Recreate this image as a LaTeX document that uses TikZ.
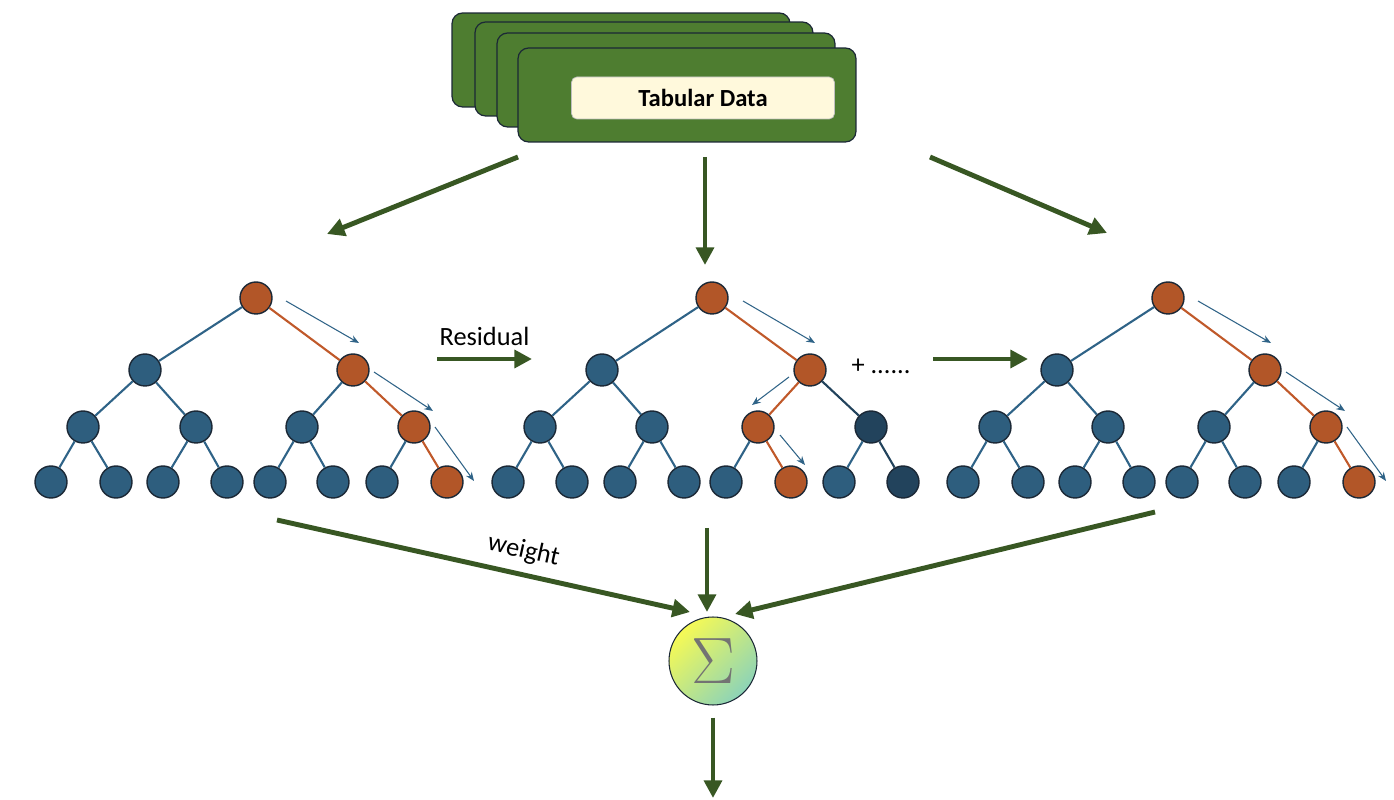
\documentclass[tikz,border=0pt]{standalone}
\usepackage{fontspec}
\setmainfont{Carlito}
\usetikzlibrary{positioning, shapes, arrows.meta}

\definecolor{boxgreen}{HTML}{4E7D30}
\definecolor{arrowgreen}{HTML}{385723}
\definecolor{nodeblue}{HTML}{2E5E7E}
\definecolor{nodedark}{HTML}{22435C}
\definecolor{nodeorange}{HTML}{B25628}
\definecolor{edgeblue}{HTML}{2F6387}
\definecolor{edgeorange}{HTML}{C0592A}
\definecolor{outline}{HTML}{1B2836}
\definecolor{cream}{HTML}{FFF9DC}
\definecolor{sigtop}{HTML}{F6FA55}
\definecolor{sigbot}{HTML}{8CD3B8}

\tikzset{
  tnode/.style={circle, draw=outline, line width=0.8pt, minimum size=0.64cm, inner sep=0pt},
  tedge/.style={line width=1.2pt},
  hint/.style={draw=edgeblue, line width=0.6pt, -{Stealth[length=5pt,width=4pt]}},
  garrow/.style={draw=arrowgreen, line width=2.8pt, -{Triangle[length=10pt,width=10pt]}},
  databox/.style={rounded corners=6pt, draw=outline, line width=0.7pt, fill=boxgreen, minimum width=6.76cm, minimum height=1.88cm},
}

\begin{document}
\begin{tikzpicture}[x=0.02cm, y=-0.02cm]
  \useasboundingbox (0,0) rectangle (1394,800);

  % stacked data sheets
  \node (data1) [databox] at (621,60) {};
  \node (data2) [databox] at (644,69) {};
  \node (data3) [databox] at (666,80) {};
  \node (data4) [databox] at (687,95) {};
  \node (tab) [rounded corners=3pt, draw=black!25, fill=cream, minimum width=5.26cm, minimum height=0.84cm,
    font=\fontsize{14}{16}\selectfont\bfseries] at (703,98) {Tabular Data};

  % trees 1 and 3
  \foreach \k/\c in {1/249, 3/1161} {
    \foreach \n/\x/\y/\f in {r/7/298/nodeorange, a/-104/370/nodeblue, b/104/370/nodeorange,
        aa/-166/427/nodeblue, ab/-53/427/nodeblue, ba/53/427/nodeblue, bb/165/427/nodeorange,
        aaa/-198/482/nodeblue, aab/-133/482/nodeblue, aba/-86/482/nodeblue, abb/-22/482/nodeblue,
        baa/21/482/nodeblue, bab/84/482/nodeblue, bba/133/482/nodeblue, bbb/198/482/nodeorange}
      \node (\n\k) [tnode, fill=\f] at (\c+\x,\y) {};
    \foreach \p/\q/\f in {r/a/edgeblue, r/b/edgeorange, a/aa/edgeblue, a/ab/edgeblue,
        b/ba/edgeblue, b/bb/edgeorange, aa/aaa/edgeblue, aa/aab/edgeblue, ab/aba/edgeblue,
        ab/abb/edgeblue, ba/baa/edgeblue, ba/bab/edgeblue, bb/bba/edgeblue, bb/bbb/edgeorange}
      \draw[tedge, draw=\f] (\p\k) -- (\q\k);
    \draw[hint] ([shift={(30,3)}]r\k.center) -- ([shift={(6,-27)}]b\k.center);
    \draw[hint] ([shift={(21,2)}]b\k.center) -- ([shift={(19,-16)}]bb\k.center);
    \draw[hint] ([shift={(21,0)}]bb\k.center) -- ([shift={(27,-1)}]bbb\k.center);
  }

  % tree 2
  \foreach \n/\x/\y/\f in {r/6/298/nodeorange, a/-104/370/nodeblue, b/104/370/nodeorange,
      aa/-166/427/nodeblue, ab/-54/427/nodeblue, ba/52/427/nodeorange, bb/165/427/nodedark,
      aaa/-198/482/nodeblue, aab/-134/482/nodeblue, aba/-86/482/nodeblue, abb/-22/482/nodeblue,
      baa/20/482/nodeblue, bab/85/482/nodeorange, bba/133/482/nodeblue, bbb/197/482/nodedark}
    \node (\n2) [tnode, fill=\f] at (706+\x,\y) {};
  \foreach \p/\q/\f in {r/a/edgeblue, r/b/edgeorange, a/aa/edgeblue, a/ab/edgeblue,
      b/ba/edgeorange, b/bb/nodedark, aa/aaa/edgeblue, aa/aab/edgeblue, ab/aba/edgeblue,
      ab/abb/edgeblue, ba/baa/edgeblue, ba/bab/edgeorange, bb/bba/edgeblue, bb/bbb/nodedark}
    \draw[tedge, draw=\f] (\p2) -- (\q2);
  \draw[hint] ([shift={(31,3)}]r2.center) -- ([shift={(5,-27)}]b2.center);
  \draw[hint] ([shift={(-21,7)}]b2.center) -- ([shift={(-6,-22)}]ba2.center);
  \draw[hint] ([shift={(22,8)}]ba2.center) -- ([shift={(14,-17)}]bab2.center);

  % sum
  \node (sigma) [circle, draw=outline, line width=0.6pt, minimum size=1.76cm, inner sep=0pt,
    top color=sigtop, bottom color=sigbot, shading angle=45]
    at (713,661) {\color{black!55}\scalebox{1.5}{\fontsize{24.88}{30}\selectfont$\Sigma$}};

  % connector ends
  \coordinate (s1) at (518,157);  \coordinate (e1) at (327,234);
  \coordinate (s2) at (705,157);  \coordinate (e2) at (705,265);
  \coordinate (s3) at (930,157);  \coordinate (e3) at (1107,233);
  \coordinate (res1) at (437,359); \coordinate (res2) at (532,359);
  \coordinate (more1) at (933,359); \coordinate (more2) at (1028,359);
  \coordinate (w1) at (277,520);  \coordinate (w2) at (690,612);
  \coordinate (m1) at (707,528);  \coordinate (m2) at (707,612);
  \coordinate (v1) at (1155,512); \coordinate (v2) at (735,614);
  \coordinate (final) at (713,798);

  \draw[garrow] (s1) -- (e1);
  \draw[garrow] (s2) -- (e2);
  \draw[garrow] (s3) -- (e3);
  \draw[garrow] (res1) -- node[above=3pt, text=black, font=\fontsize{15}{17}\selectfont] {Residual} (res2);
  \draw[garrow] (more1) -- (more2);
  \node (more) [font=\fontsize{15}{17}\selectfont] at (881,366) {+ ......};
  \draw[garrow] (w1) -- node[pos=0.585, sloped, above=2pt, text=black, font=\fontsize{15}{17}\selectfont] {weight} (w2);
  \draw[garrow] (m1) -- (m2);
  \draw[garrow] (v1) -- (v2);
  \draw[garrow, shorten <=0.24cm] (sigma) -- (final);
\end{tikzpicture}
\end{document}
